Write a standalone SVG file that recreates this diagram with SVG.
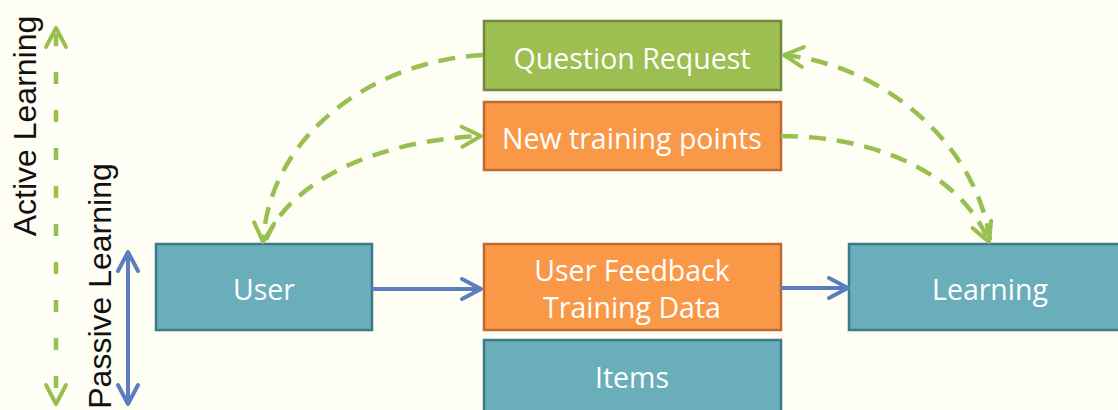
<svg xmlns="http://www.w3.org/2000/svg" width="1118" height="410" viewBox="0 0 1118 410">
<defs>
<style>
.box{stroke-width:2.5}
.teal{fill:#6AAEBB;stroke:#3F7A8C}
.orange{fill:#F99847;stroke:#BF6A2C}
.green{fill:#9DBE50;stroke:#72893D}
.lbl{font-family:"Open Sans",Lato,sans-serif;font-size:28.5px;fill:#FFFFFF;text-anchor:middle}
.side{font-family:"Liberation Sans",Arial,sans-serif;font-size:32px;fill:#111111;text-anchor:middle}
.gd{fill:none;stroke:#98C050;stroke-width:4.5;stroke-dasharray:17 11}
.bl{fill:none;stroke:#5B7EBE;stroke-width:4}
</style>
<marker id="ga" viewBox="0 0 24 24" refX="21" refY="12" markerWidth="24" markerHeight="24" markerUnits="userSpaceOnUse" orient="auto-start-reverse" overflow="visible">
<path d="M2,2 L21,12 L2,22" fill="none" stroke="#98C050" stroke-width="4" stroke-linecap="round" stroke-linejoin="round"/>
</marker>
<marker id="ba" viewBox="0 0 24 24" refX="21" refY="12" markerWidth="24" markerHeight="24" markerUnits="userSpaceOnUse" orient="auto-start-reverse" overflow="visible">
<path d="M2,2 L21,12 L2,22" fill="none" stroke="#5B7EBE" stroke-width="4" stroke-linecap="round" stroke-linejoin="round"/>
</marker>
</defs>
<rect width="1118" height="410" fill="#FEFEF4"/>

<g id="axis-labels">
<text class="side" transform="translate(36,126) rotate(-90)">Active Learning</text>
<text class="side" transform="translate(111,286) rotate(-90)">Passive Learning</text>
</g>

<g id="node-question"><rect class="box green" x="484" y="21" width="297" height="69"/><text class="lbl" x="632" y="69">Question Request</text></g>
<g id="node-newpoints"><rect class="box orange" x="484" y="102" width="297" height="68"/><text class="lbl" x="632" y="149">New training points</text></g>
<g id="node-user"><rect class="box teal" x="156" y="244" width="216" height="86"/><text class="lbl" x="264" y="300">User</text></g>
<g id="node-feedback"><rect class="box orange" x="484" y="244" width="297" height="86"/><text class="lbl" x="632" y="281">User Feedback</text><text class="lbl" x="632" y="318">Training Data</text></g>
<g id="node-items"><rect class="box teal" x="484" y="340" width="297" height="80"/><text class="lbl" x="632" y="388">Items</text></g>
<g id="node-learning"><rect class="box teal" x="849" y="244" width="280" height="86"/><text class="lbl" x="990" y="300">Learning</text></g>

<g id="connectors">
<path d="M56,28 L56,404" fill="none" stroke="#98C050" stroke-width="4.5" stroke-dasharray="12 26" stroke-dashoffset="-6" marker-start="url(#ga)" marker-end="url(#ga)"/>
<path class="bl" d="M128,252 L128,404" marker-start="url(#ba)" marker-end="url(#ba)"/>
<path class="bl" d="M372,289 L481,289" marker-end="url(#ba)"/>
<path class="bl" d="M781,288 L848,288" marker-end="url(#ba)"/>
<path class="gd" d="M483,55 C380,60 270,130 263,242" marker-end="url(#ga)"/>
<path class="gd" d="M266,240 C290,180 380,140 481,136" marker-end="url(#ga)"/>
<path class="gd" d="M781,136 C870,136 960,170 989,242" marker-end="url(#ga)"/>
<path class="gd" d="M990,240 C975,140 880,65 784,55" marker-end="url(#ga)"/>
</g>
</svg>
